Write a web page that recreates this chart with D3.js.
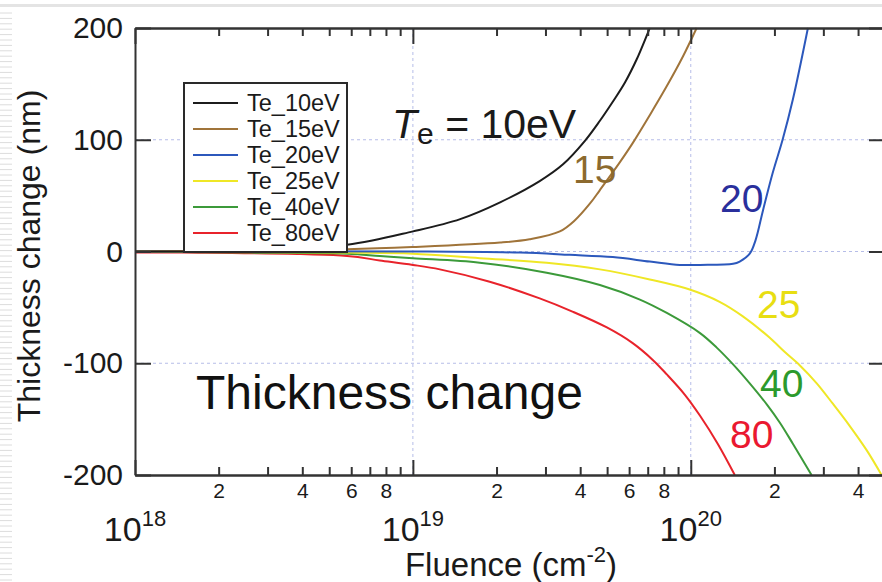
<!DOCTYPE html>
<html>
<head>
<meta charset="utf-8">
<script src="https://cdn.jsdelivr.net/npm/d3@7"></script>
<style>
  html, body { margin: 0; padding: 0; background: #fff; }
  svg { display: block; font-family: "Liberation Sans", Arial, sans-serif; }
</style>
</head>
<body>
<svg id="chart" width="882" height="582"></svg>
<script>
// Thickness change vs. ion fluence for several electron temperatures
const seriesNames = ["Te_10eV", "Te_15eV", "Te_20eV", "Te_25eV", "Te_40eV", "Te_80eV"];
const seriesColors = ["#1c1c1c", "#a0743a", "#2c58bc", "#efe726", "#3c9a3a", "#e8232b"];

// fluence in cm^-2, thickness change in nm
const fluence10 = [1.0e18, 2.6e18, 5.8e18, 1.0e19, 1.48e19, 2.06e19, 2.86e19, 3.47e19, 4.16e19, 4.71e19, 5.24e19, 5.79e19, 6.39e19, 7.12e19];
const thick10   = [0, 1, 6, 18, 29, 44, 63, 78, 99, 117, 134, 151, 172, 200];

const fluence15 = [1.0e18, 5.8e18, 1.0e19, 2.06e19, 2.63e19, 3.38e19, 3.83e19, 4.34e19, 4.71e19, 5.56e19, 6.18e19, 7.12e19, 8.20e19, 9.35e19, 1.05e20];
const thick15   = [0, 2, 4, 8, 11, 18, 28, 43, 55, 80, 97, 122, 148, 174, 200];

const fluence20 = [1.0e18, 1.0e19, 2.43e19, 3.67e19, 5.24e19, 7.12e19, 9.13e19, 1.08e20, 1.42e20, 1.50e20, 1.63e20, 1.71e20, 1.82e20, 1.97e20, 2.14e20, 2.33e20, 2.64e20];
const thick20   = [0, 0, -1, -3, -5, -9, -12, -12, -11, -9, -2, 10, 37, 70, 100, 136, 200];

const fluence25 = [1.0e18, 5.8e18, 1.0e19, 1.74e19, 3.03e19, 4.71e19, 7.12e19, 9.91e19, 1.27e20, 1.54e20, 1.92e20, 2.18e20, 2.47e20, 2.84e20, 3.24e20, 3.73e20, 4.30e20, 4.86e20];
const thick25   = [0, -1, -2, -6, -10, -16, -25, -34, -45, -58, -77, -90, -102, -118, -136, -156, -178, -200];

const fluence40 = [1.0e18, 2.6e18, 5.8e18, 7.6e18, 1.0e19, 1.74e19, 3.03e19, 4.71e19, 6.56e19, 8.20e19, 1.08e20, 1.24e20, 1.42e20, 1.63e20, 1.88e20, 2.09e20, 2.33e20, 2.72e20];
const thick40   = [0, -1, -2, -4, -6, -10, -19, -30, -43, -55, -73, -86, -101, -118, -137, -153, -172, -200];

const fluence80 = [1.0e18, 1.5e18, 5.8e18, 7.6e18, 1.0e19, 1.25e19, 1.89e19, 2.86e19, 3.77e19, 4.99e19, 6.18e19, 7.30e19, 8.20e19, 9.51e19, 1.08e20, 1.25e20, 1.44e20];
const thick80   = [-1, -1, -4, -8, -12, -16, -27, -42, -54, -68, -82, -97, -110, -128, -147, -172, -200];

const fluenceSets = [fluence10, fluence15, fluence20, fluence25, fluence40, fluence80];
const thickSets   = [thick10, thick15, thick20, thick25, thick40, thick80];

// in-plot curve labels
const curveLabels = ["15", "20", "25", "40", "80"];
const curveLabelColors = ["#8c6a2e", "#2a2f9c", "#e8de12", "#2c9a2c", "#ea1830"];
const curveLabelPos = [[573, 183], [720, 212], [757, 318], [760, 397], [730, 448]];

// axis ticks
const yTicks = [-200, -100, 0, 100, 200];
const decadeTicks = [1e18, 1e19, 1e20];
const decadeExponents = ["18", "19", "20"];
const minorMultipliers = [2, 3, 4, 5, 6, 7, 8, 9];
const labelledMultipliers = [2, 4, 6, 8];

const svg = d3.select("#chart");
const plotLeft = 135, plotRight = 885, plotTop = 28, plotBottom = 475;

const x = d3.scaleLog().domain([1e18, 5e20]).range([plotLeft, plotRight]);
const y = d3.scaleLinear().domain([-200, 200]).range([plotBottom, plotTop]);

// faint scan stripes at left edge and top band
const deco = svg.append("g");
deco.append("line").attr("x1", 0).attr("x2", 882).attr("y1", 5.5).attr("y2", 5.5)
  .attr("stroke", "#e4e4e4").attr("stroke-width", 3);
d3.range(13, 582, 5.4).forEach(yy => {
  deco.append("line").attr("x1", 0).attr("x2", 12).attr("y1", yy).attr("y2", yy)
    .attr("stroke", "#dcdcdc").attr("stroke-width", 1);
});

// minor tick positions
const minorTicks = [];
decadeTicks.forEach(d => minorMultipliers.forEach(m => {
  const v = d * m;
  if (v <= 5e20) minorTicks.push(v);
}));

// dashed grid
const grid = svg.append("g").attr("stroke", "#b6bde8").attr("stroke-width", 1).attr("stroke-dasharray", "3,3");
[100, 0, -100].forEach(v => grid.append("line").attr("x1", plotLeft).attr("x2", plotRight).attr("y1", y(v)).attr("y2", y(v)));
[1e19, 1e20].forEach(v => grid.append("line").attr("x1", x(v)).attr("x2", x(v)).attr("y1", plotTop).attr("y2", plotBottom));

// curves
svg.append("clipPath").attr("id", "plotClip").append("rect")
  .attr("x", plotLeft).attr("y", plotTop - 1).attr("width", plotRight - plotLeft).attr("height", plotBottom - plotTop + 2);

const line = d3.line().x(d => x(d[0])).y(d => y(d[1])).curve(d3.curveCatmullRom.alpha(0.5));
const curves = svg.append("g").attr("clip-path", "url(#plotClip)");
// draw in reverse so the first series sits on top
[5, 4, 3, 2, 1, 0].forEach(i => {
  const pts = fluenceSets[i].map((f, k) => [f, thickSets[i][k]]);
  curves.append("path").datum(pts).attr("d", line)
    .attr("fill", "none").attr("stroke", seriesColors[i]).attr("stroke-width", 2);
});

// axes
const axisColor = "#333";
function styleAxis(g) {
  g.selectAll("path, line").attr("stroke", axisColor).attr("stroke-width", 2);
  g.selectAll("text").attr("fill", "#1a1a1a").attr("font-family", "Liberation Sans, Arial, sans-serif");
}

// bottom: minor ticks with 2,4,6,8 labels
const gBottomMinor = svg.append("g").attr("transform", `translate(0,${plotBottom})`)
  .call(d3.axisBottom(x).tickValues(minorTicks).tickSize(-8).tickSizeOuter(0).tickPadding(8)
    .tickFormat(v => {
      const m = Math.round(v / Math.pow(10, Math.floor(Math.log10(v) + 1e-9)));
      return labelledMultipliers.includes(m) ? String(m) : "";
    }));
gBottomMinor.selectAll("text").attr("font-size", 21);
styleAxis(gBottomMinor);
const gBottomMajor = svg.append("g").attr("transform", `translate(0,${plotBottom})`)
  .call(d3.axisBottom(x).tickValues(decadeTicks).tickSize(-15).tickSizeOuter(0).tickFormat(""));
styleAxis(gBottomMajor);

// top: mirrored ticks
const gTopMinor = svg.append("g").attr("transform", `translate(0,${plotTop})`)
  .call(d3.axisTop(x).tickValues(minorTicks).tickSize(-8).tickSizeOuter(0).tickFormat(""));
styleAxis(gTopMinor);
const gTopMajor = svg.append("g").attr("transform", `translate(0,${plotTop})`)
  .call(d3.axisTop(x).tickValues(decadeTicks).tickSize(-16).tickSizeOuter(0).tickFormat(""));
styleAxis(gTopMajor);

// left and right
const gLeft = svg.append("g").attr("transform", `translate(${plotLeft},0)`)
  .call(d3.axisLeft(y).tickValues(yTicks).tickSize(-16).tickSizeOuter(0).tickPadding(12).tickFormat(d => String(d)));
gLeft.selectAll("text").attr("font-size", 30);
styleAxis(gLeft);
const gRight = svg.append("g").attr("transform", `translate(${plotRight},0)`)
  .call(d3.axisRight(y).tickValues(yTicks).tickSize(-16).tickSizeOuter(0).tickFormat(""));
styleAxis(gRight);

// decade labels 10^n
decadeTicks.forEach((d, i) => {
  const t = svg.append("text").attr("x", x(d)).attr("y", 541).attr("text-anchor", "middle")
    .attr("fill", "#1a1a1a").attr("font-size", 34);
  t.append("tspan").text("10");
  t.append("tspan").attr("dy", -15).attr("font-size", 22).text(decadeExponents[i]);
});

// axis titles
const xt = svg.append("text").attr("x", 511).attr("y", 576).attr("text-anchor", "middle")
  .attr("fill", "#1a1a1a").attr("font-size", 33);
xt.append("tspan").text("Fluence (cm");
xt.append("tspan").attr("dy", -14).attr("font-size", 22).text("-2");
xt.append("tspan").attr("dy", 14).text(")");

svg.append("text").attr("transform", "translate(40,256) rotate(-90)").attr("text-anchor", "middle")
  .attr("fill", "#1a1a1a").attr("font-size", 32).text("Thickness change (nm)");

// legend
const lg = svg.append("g");
lg.append("rect").attr("x", 184).attr("y", 83).attr("width", 163).attr("height", 169)
  .attr("fill", "#fff").attr("stroke", "#2a2a2a").attr("stroke-width", 2);
seriesNames.forEach((name, i) => {
  const yy = 103 + i * 26;
  lg.append("line").attr("x1", 193).attr("x2", 238).attr("y1", yy).attr("y2", yy)
    .attr("stroke", seriesColors[i]).attr("stroke-width", 2);
  lg.append("text").attr("x", 247).attr("y", yy + 8).attr("font-size", 23.5)
    .attr("fill", "#1a1a1a").text(name);
});

// annotations
const te = svg.append("text").attr("x", 392).attr("y", 138).attr("font-size", 41).attr("fill", "#1a1a1a");
te.append("tspan").attr("font-style", "italic").text("T");
te.append("tspan").attr("dy", 6).attr("font-size", 30).text("e");
te.append("tspan").attr("dy", -6).text(" = 10eV");

curveLabels.forEach((t, i) => {
  svg.append("text").attr("x", curveLabelPos[i][0]).attr("y", curveLabelPos[i][1])
    .attr("font-size", 39).attr("fill", curveLabelColors[i]).text(t);
});

svg.append("text").attr("x", 196).attr("y", 409).attr("font-size", 48).attr("fill", "#111")
  .text("Thickness change");
</script>
</body>
</html>
